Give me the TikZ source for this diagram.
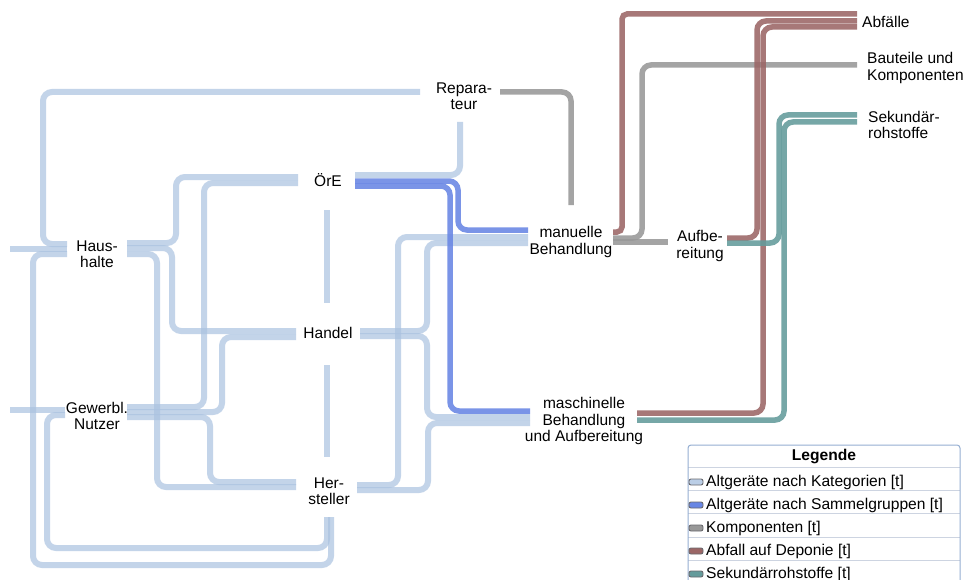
\documentclass[tikz,border=0pt]{standalone}
\usepackage{fontspec}
\setmainfont{Liberation Sans}
\definecolor{katc}{RGB}{170,194,224}
\definecolor{samc}{RGB}{104,134,228}
\definecolor{kompc}{RGB}{152,152,152}
\definecolor{depc}{RGB}{155,102,102}
\definecolor{sekc}{RGB}{100,155,155}
\definecolor{legborder}{RGB}{150,175,210}
\definecolor{legsep}{RGB}{205,212,225}
\begin{document}
\begin{tikzpicture}[x=1pt,y=-1pt,
  flow/.style={line width=5.5pt, rounded corners=9pt, draw opacity=0.88},
  kat/.style={flow, line width=6pt, draw=katc, draw opacity=0.7},
  sam/.style={flow, draw=samc},
  komp/.style={flow, draw=kompc},
  dep/.style={flow, draw=depc},
  sekflow/.style={flow, draw=sekc},
  lab/.style={font=\fontsize{15.5}{16.5}\selectfont, align=center, inner sep=0pt},
  labl/.style={lab, align=left, anchor=west},
  legtext/.style={font=\fontsize{15.6}{16}\selectfont, anchor=base west, inner sep=0pt},
  legicon/.style={draw={rgb,255:red,105;green,105;blue,110}, line width=0.9pt, rounded corners=2pt},
]
\fill[white] (0,0) rectangle (965,580);
\useasboundingbox (0,0) rectangle (965,580);

% ---------- nodes ----------
\node[lab] (hh)  at (97,254)  {Haus-\\halte};
\node[lab] (gn)  at (97,416)  {Gewerbl.\\Nutzer};
\node[lab] (rep) at (464,96)  {Repara-\\teur};
\node[lab] (ore) at (328,180) {ÖrE};
\node[lab] (han) at (328,333) {Handel};
\node[lab] (her) at (329,491) {Her-\\steller};
\node[lab] (man) at (571,242) {manuelle\\Behandlung};
\node[lab] (mas) at (584,421) {maschinelle\\Behandlung\\und Aufbereitung};
\node[lab] (auf) at (700,246) {Aufbe-\\reitung};
\node[labl] (abf)  at (862,22)  {Abfälle};
\node[labl] (bau)  at (867,68)  {Bauteile und\\Komponenten};
\node[labl] (sekn) at (868,125) {Sekundär-\\rohstoffe};
\coordinate (in1) at (10,249);
\coordinate (in2) at (10,410);

% ---------- Altgeräte nach Kategorien ----------
\draw[kat] ([shift={(-30,-10)}]hh.center) -| (43,92) -- ([shift={(-44,-4)}]rep.center);
\draw[kat] (in1) -- ([shift={(-30,-5)}]hh.center);
\draw[kat] ([shift={(-30,0)}]hh.center) -| (33,565) -| ([shift={(2,26)}]her.center);
\draw[kat] ([shift={(-32,-1)}]gn.center) -| (47,548) -| ([shift={(-2,26)}]her.center);
\draw[kat] (in2) -- ([shift={(-32,-6)}]gn.center);
\draw[kat] ([shift={(30,-11)}]hh.center) -| (176,177) -- ([shift={(-30,-3)}]ore.center);
\draw[kat] ([shift={(30,-6)}]hh.center) -| (172,331) -- ([shift={(-32,-2)}]han.center);
\draw[kat] ([shift={(30,0)}]hh.center) -| (157,487) -- ([shift={(-33,-4)}]her.center);
\draw[kat] ([shift={(30,-9)}]gn.center) -| (204,183) -- ([shift={(-30,3)}]ore.center);
\draw[kat] ([shift={(30,-4)}]gn.center) -| (222,337) -- ([shift={(-32,4)}]han.center);
\draw[kat] ([shift={(30,1)}]gn.center) -| (210,482) -- ([shift={(-33,-9)}]her.center);
\draw[kat] ([shift={(27,-5)}]ore.center) -| ([shift={(-4,26)}]rep.center);
\draw[kat] ([shift={(-1,30)}]ore.center) -- ([shift={(-1,-30)}]han.center);
\draw[kat] ([shift={(-1,32)}]han.center) -- ([shift={(-2,-34)}]her.center);
\draw[kat] ([shift={(32,-2)}]han.center) -| (427,243) -- ([shift={(-43,1)}]man.center);
\draw[kat] ([shift={(32,3)}]han.center) -| (427,417) -- ([shift={(-54,-4)}]mas.center);
\draw[kat] ([shift={(28,-6)}]her.center) -| (398,237) -- ([shift={(-43,-5)}]man.center);
\draw[kat] ([shift={(28,-1)}]her.center) -| (428,423) -- ([shift={(-54,2)}]mas.center);

% ---------- Altgeräte nach Sammelgruppen ----------
\draw[sam] ([shift={(27,1)}]ore.center) -| (458,230) -- ([shift={(-43,-12)}]man.center);
\draw[sam] ([shift={(27,6)}]ore.center) -| (450,411) -- ([shift={(-54,-10)}]mas.center);

% ---------- Komponenten ----------
\draw[komp] ([shift={(36,-4)}]rep.center) -| ([shift={(0,-37)}]man.center);
\draw[komp] ([shift={(42,-4)}]man.center) -| (642,65) -- ([shift={(-10,-3)}]bau.west);
\draw[komp] ([shift={(42,0)}]man.center) -- ([shift={(-32,-4)}]auf.center);

% ---------- Abfall auf Deponie ----------
\draw[dep, rounded corners=5pt] ([shift={(42,-10)}]man.center) -| (622,14) -- ([shift={(-5,-8)}]abf.west);
\draw[dep] ([shift={(27,-8)}]auf.center) -| (757,21) -- ([shift={(-5,-1)}]abf.west);
\draw[dep] ([shift={(53,-8)}]mas.center) -| (763,27) -- ([shift={(-5,5)}]abf.west);

% ---------- Sekundärrohstoffe ----------
\draw[sekflow] ([shift={(27,-3)}]auf.center) -| (779,115) -- ([shift={(-11,-10)}]sekn.west);
\draw[sekflow] ([shift={(53,-1)}]mas.center) -| (784,122) -- ([shift={(-11,-3)}]sekn.west);

% ---------- Legende ----------
\fill[white] (688,445) rectangle (960,580);
\foreach \yy in {467,490,513,537,560} {\draw[legsep, line width=0.8pt] (688,\yy) -- (960,\yy);}
\draw[legborder, line width=1pt, rounded corners=3pt] (688,590) |- (960,445) -- (960,590);
\node[font=\fontsize{15.6}{16}\selectfont\bfseries, inner sep=0pt] (legt) at (824,456) {Legende};
\draw[legicon, fill=katc!80] (689,479) rectangle (703,485);
\node[legtext] (lg1) at (706,486) {Altgeräte nach Kategorien [t]};
\draw[legicon, fill=samc] (689,502) rectangle (703,508);
\node[legtext] (lg2) at (706,509) {Altgeräte nach Sammelgruppen [t]};
\draw[legicon, fill=kompc] (689,525) rectangle (703,531);
\node[legtext] (lg3) at (706,532) {Komponenten [t]};
\draw[legicon, fill=depc] (689,548) rectangle (703,554);
\node[legtext] (lg4) at (706,555) {Abfall auf Deponie [t]};
\draw[legicon, fill=sekc] (689,571) rectangle (703,577);
\node[legtext] (lg5) at (706,578) {Sekundärrohstoffe [t]};
\end{tikzpicture}
\end{document}
